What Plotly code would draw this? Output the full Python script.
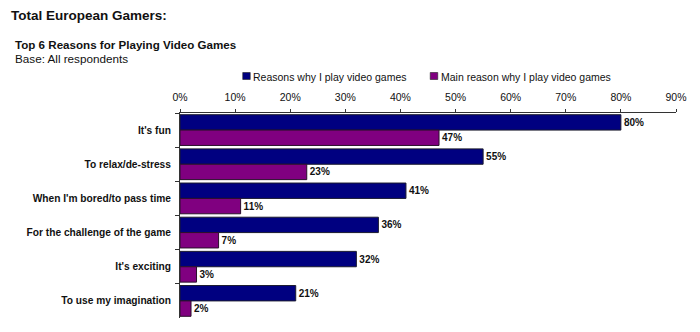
import plotly.graph_objects as go

reasons = [
    "It's fun",
    "To relax/de-stress",
    "When I'm bored/to pass time",
    "For the challenge of the game",
    "It's exciting",
    "To use my imagination",
]
all_reasons = [80, 55, 41, 36, 32, 21]
main_reason = [47, 23, 11, 7, 3, 2]
x_ticks = [0, 10, 20, 30, 40, 50, 60, 70, 80, 90]
x_tick_labels = [f"{v}%" for v in x_ticks]
series_names = ["Reasons why I play video games", "Main reason why I play video games"]

FONT = "Liberation Sans, Arial, sans-serif"
NAVY = "#000080"
PURPLE = "#800080"

# plot area in pixels (used to place the header and legend in paper units)
L, R, T, B = 179.5, 676.0, 113.0, 318.0


def px(x):
    return (x - L) / (R - L)


def py(y):
    return (B - y) / (B - T)


fig = go.Figure()
for vals, name, col, edge in [
    (all_reasons, series_names[0], NAVY, "#1a1a2e"),
    (main_reason, series_names[1], PURPLE, "#2a102a"),
]:
    fig.add_trace(go.Bar(
        y=reasons, x=vals, orientation="h", name=name, showlegend=False,
        marker=dict(color=col, line=dict(color=edge, width=1)),
        text=[f"<b>{v}%</b>" for v in vals], textposition="outside",
        textfont=dict(family=FONT, size=10, color="#111"), cliponaxis=False,
    ))

# legend drawn as small squares with labels above the axis
legend_items = [(242.3, NAVY, series_names[0]), (430.0, PURPLE, series_names[1])]
shapes = []
annotations = []
for x0, col, name in legend_items:
    shapes.append(dict(type="rect", xref="paper", yref="paper",
                       x0=px(x0), x1=px(x0 + 7.5), y0=py(79.5), y1=py(72.5),
                       fillcolor=col, line=dict(color="#222", width=0.6)))
    annotations.append(dict(text=name, xref="paper", yref="paper",
                            x=px(x0 + 8.3), y=py(76.6), xanchor="left", yanchor="middle",
                            showarrow=False,
                            font=dict(family=FONT, size=10.5, color="#111")))

annotations += [
    dict(text="<b>Total European Gamers:</b>", xref="paper", yref="paper",
         x=px(8), y=py(15), xanchor="left", yanchor="middle",
         showarrow=False, font=dict(family=FONT, size=13.5, color="#111")),
    dict(text="<b>Top 6 Reasons for Playing Video Games</b>", xref="paper", yref="paper",
         x=px(12.5), y=py(44.5), xanchor="left", yanchor="middle",
         showarrow=False, font=dict(family=FONT, size=11.6, color="#111")),
    dict(text="Base: All respondents", xref="paper", yref="paper",
         x=px(12.5), y=py(58), xanchor="left", yanchor="middle",
         showarrow=False, font=dict(family=FONT, size=11.7, color="#111")),
]

fig.update_layout(
    width=700, height=332,
    margin=dict(l=L, r=700 - R, t=T, b=332 - B),
    paper_bgcolor="white", plot_bgcolor="white",
    barmode="group", bargap=0.1, bargroupgap=0,
    font=dict(family=FONT, size=10, color="#111"),
    showlegend=False,
    xaxis=dict(range=[0, 90], side="top", tickmode="array", tickvals=x_ticks,
               ticktext=x_tick_labels,
               showgrid=False, zeroline=False, showline=True, linecolor="#333",
               linewidth=1, ticks="outside", ticklen=3, tickcolor="#333",
               ticklabelstandoff=4,
               tickfont=dict(family=FONT, size=10.5, color="#111")),
    yaxis=dict(autorange="reversed", showline=True, linecolor="#333",
               linewidth=1, ticks="outside", ticklen=4, tickcolor="#333",
               tickson="boundaries", showgrid=False, ticklabelstandoff=6,
               tickprefix="<b>", ticksuffix="</b>",
               tickfont=dict(family=FONT, size=10.2, color="#111")),
    shapes=shapes,
    annotations=annotations,
)

fig.write_html("out.html")
